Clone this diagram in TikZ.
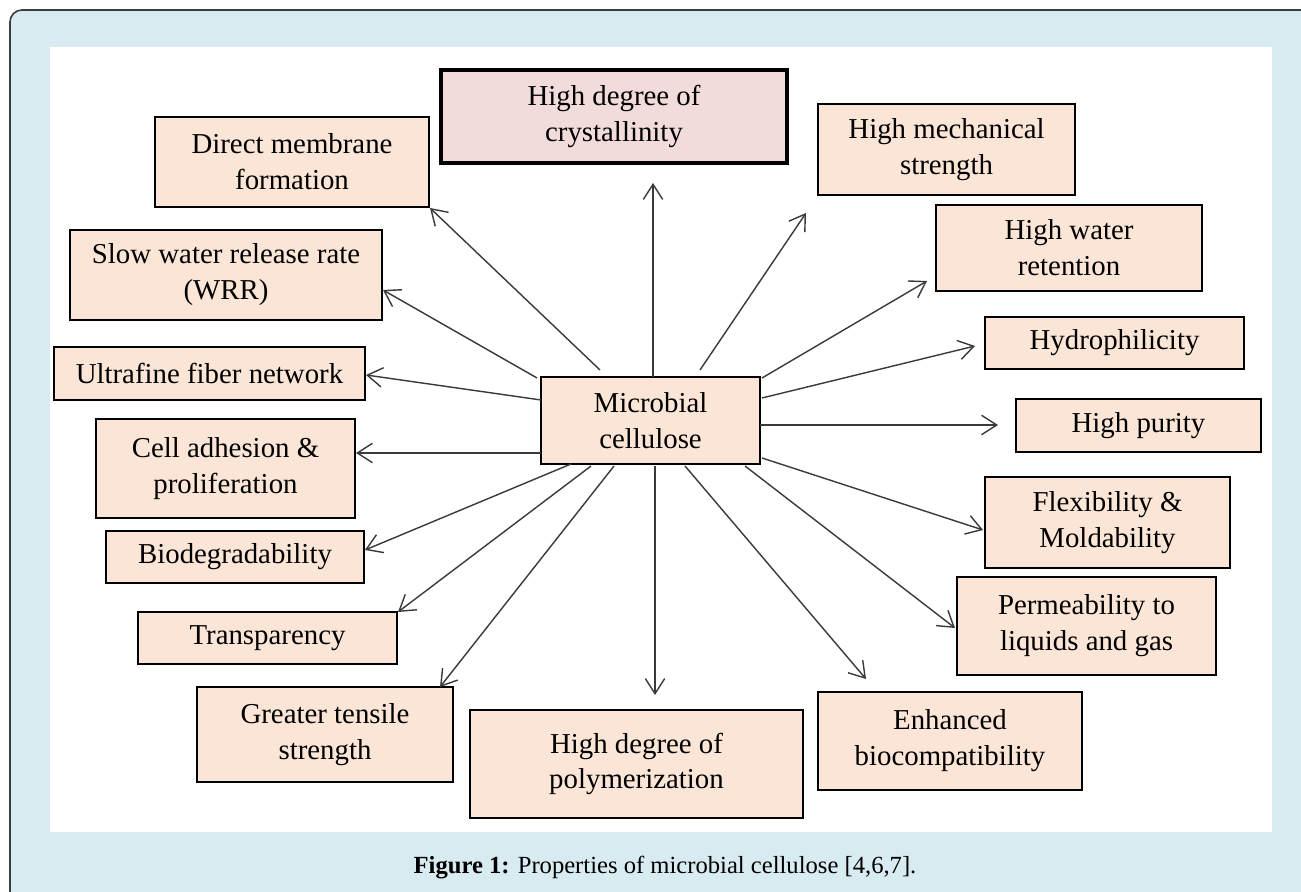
\documentclass[tikz,border=0pt]{standalone}
\usepackage{fontspec}
\setmainfont{Liberation Serif}
\usetikzlibrary{arrows.meta}
\definecolor{bgblue}{HTML}{D8EBF1}
\definecolor{peach}{HTML}{FBE5D6}
\definecolor{pinkb}{HTML}{F2DCDB}
\definecolor{arrgray}{HTML}{3A3A3A}
\definecolor{framegray}{HTML}{3C3C3C}
\newcommand\pbox[7][box]{%
  \node[#1, minimum width={(#4-#2)*0.01cm}, minimum height={(#5-#3)*0.01cm}]
    (#6) at ({(#2+#4)/2},{(#3+#5)/2}) {#7};}
\begin{document}
\begin{tikzpicture}[x=0.01cm,y=-0.01cm,
  box/.style={draw=black, line width=0.75pt, fill=peach, inner sep=0pt, align=center,
    font=\fontsize{8.2}{10.2}\selectfont},
  boxpink/.style={box, fill=pinkb, line width=0.95pt},
  arr/.style={draw=arrgray, line width=0.4pt, -{Straight Barb[length=4.3pt,width=5.5pt]}}]
\clip (0,0) rectangle (1301,892);
\fill[white] (0,0) rectangle (1301,892);
\draw[fill=bgblue, draw=framegray, line width=0.45pt, rounded corners=0.12cm] (10,10) rectangle (1340,930);
\fill[white] (50,47) rectangle (1272,832);

% boxes
\pbox[boxpink]{441}{70}{787}{163}{cry}{High degree of\\crystallinity}
\pbox{155}{117}{429}{207}{dmf}{Direct membrane\\formation}
\pbox{70}{230}{382}{320}{swr}{Slow water release rate\\(WRR)}
\pbox{54}{347}{365}{400}{ufn}{Ultrafine fiber network}
\pbox{96}{419}{355}{518}{cell}{Cell adhesion \&\\proliferation}
\pbox{106}{531}{364}{583}{bio}{Biodegradability}
\pbox{138}{612}{397}{664}{tra}{Transparency}
\pbox{197}{687}{453}{782}{gts}{Greater tensile\\strength}
\pbox{470}{710}{803}{818}{pol}{High degree of\\polymerization}
\pbox{818}{692}{1082}{790}{enh}{Enhanced\\biocompatibility}
\pbox{957}{577}{1216}{675}{per}{Permeability to\\liquids and gas}
\pbox{985}{477}{1230}{568}{flx}{Flexibility \&\\Moldability}
\pbox{1016}{399}{1261}{452}{pur}{High purity}
\pbox{985}{317}{1244}{369}{hyd}{Hydrophilicity}
\pbox{936}{205}{1202}{291}{hwr}{High water\\retention}
\pbox{818}{104}{1075}{195}{hms}{High mechanical\\strength}
\pbox{541}{377}{760}{464}{mc}{Microbial\\cellulose}

% arrow end points
\coordinate (s1) at (653,377);  \coordinate (t1) at (653,183);
\coordinate (s2) at (600,370);  \coordinate (t2) at (430,208);
\coordinate (s3) at (537,378);  \coordinate (t3) at (383,290);
\coordinate (s4) at (541,400);  \coordinate (t4) at (366,375);
\coordinate (s5) at (541,453);  \coordinate (t5) at (356,453);
\coordinate (s6) at (571,464);  \coordinate (t6) at (365,550);
\coordinate (s7) at (591,466);  \coordinate (t7) at (398,612);
\coordinate (s8) at (614,466);  \coordinate (t8) at (440,687);
\coordinate (s9) at (655,466);  \coordinate (t9) at (655,695);
\coordinate (s10) at (685,466); \coordinate (t10) at (866,679);
\coordinate (s11) at (745,466); \coordinate (t11) at (955,628);
\coordinate (s12) at (762,458); \coordinate (t12) at (983,530);
\coordinate (s13) at (760,425); \coordinate (t13) at (998,425);
\coordinate (s14) at (762,398); \coordinate (t14) at (975,346);
\coordinate (s15) at (762,378); \coordinate (t15) at (927,281);
\coordinate (s16) at (700,370); \coordinate (t16) at (806,213);
\foreach \i in {1,...,16} {\draw[arr] (s\i) -- (t\i);}

\node[font=\fontsize{7}{8.4}\selectfont] (figcap) at (665,868)
  {\textbf{Figure 1:} Properties of microbial cellulose [4,6,7].};
\end{tikzpicture}
\end{document}
